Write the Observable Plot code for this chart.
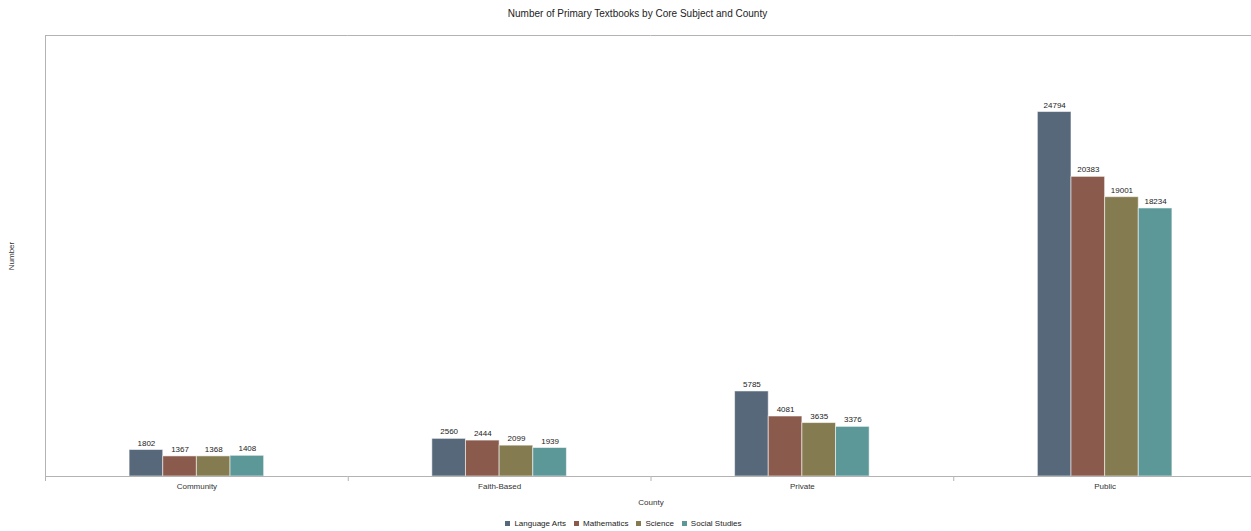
<!DOCTYPE html>
<html>
<head>
<meta charset="utf-8">
<script src="https://cdn.jsdelivr.net/npm/d3@7"></script>
<script src="https://cdn.jsdelivr.net/npm/@observablehq/plot@0.6"></script>
<style>
  html, body { margin: 0; padding: 0; background: #fff; overflow: hidden; width: 1251px; height: 531px; }
  body { font-family: "Liberation Sans", Arial, sans-serif; }
  #title { height: 25px; line-height: 28px; font-size: 10px; color: #222; text-align: center; padding-left: 24px; }
  #chart { width: 1251px; overflow: hidden; }
  #chart svg { display: block; max-width: none !important; }
  #legend { display: flex; justify-content: center; height: 16px; align-items: center; padding-left: 4px; }
</style>
</head>
<body>
<div id="title">Number of Primary Textbooks by Core Subject and County</div>
<div id="chart"></div>
<div id="legend"></div>
<script>
const counties = ["Community", "Faith-Based", "Private", "Public"];
const subjects = ["Language Arts", "Mathematics", "Science", "Social Studies"];
const languageArts = [1802, 2560, 5785, 24794];
const mathematics = [1367, 2444, 4081, 20383];
const science = [1368, 2099, 3635, 19001];
const socialStudies = [1408, 1939, 3376, 18234];
const colors = ["#56687a", "#8a5b4d", "#857b51", "#5d9898"];

const seriesValues = [languageArts, mathematics, science, socialStudies];
const data = [];
counties.forEach((c, i) => subjects.forEach((s, j) => data.push({county: c, subject: s, value: seriesValues[j][i]})));

const axisColor = "#b3b3b3";

const chart = Plot.plot({
  width: 1256,
  height: 490,
  marginTop: 10,
  marginLeft: 45,
  marginRight: 0,
  marginBottom: 39,
  style: {fontFamily: "Liberation Sans, Arial, sans-serif", fontSize: "8px", color: "#333", overflow: "visible", maxWidth: "none"},
  fx: {domain: counties, padding: 0, round: false, label: "County", labelAnchor: "center", labelOffset: 28, tickSize: 0, tickPadding: 7},
  x: {domain: subjects, paddingInner: 0, paddingOuter: 2.5, round: false, axis: null},
  y: {domain: [0, 30000], ticks: [], label: "Number", labelAnchor: "center", labelOffset: 37, labelArrow: "none"},
  color: {domain: subjects, range: colors},
  marks: [
    Plot.ruleY([30000], {stroke: axisColor}),
    Plot.frame({anchor: "left", facetAnchor: "left", stroke: axisColor}),
    Plot.barY(data, {fx: "county", x: "subject", y: "value", fill: "subject", stroke: "#ffffff", strokeOpacity: 0.55, strokeWidth: 1}),
    Plot.text(data, {fx: "county", x: "subject", y: "value", text: d => String(d.value), dy: -7, fill: "#222", fontSize: 8}),
    Plot.frame({anchor: "left", stroke: axisColor, insetTop: 441, insetBottom: -4}),
    Plot.ruleY([0], {stroke: axisColor})
  ]
});
document.getElementById("chart").appendChild(chart);

const legend = Plot.legend({
  color: {domain: subjects, range: colors},
  swatchSize: 5,
  swatchWidth: 5,
  swatchHeight: 5,
  style: {fontFamily: "Liberation Sans, Arial, sans-serif", fontSize: "8px", color: "#222"}
});
legend.style.minHeight = "0";
legend.style.margin = "0";
document.getElementById("legend").appendChild(legend);
</script>
</body>
</html>
